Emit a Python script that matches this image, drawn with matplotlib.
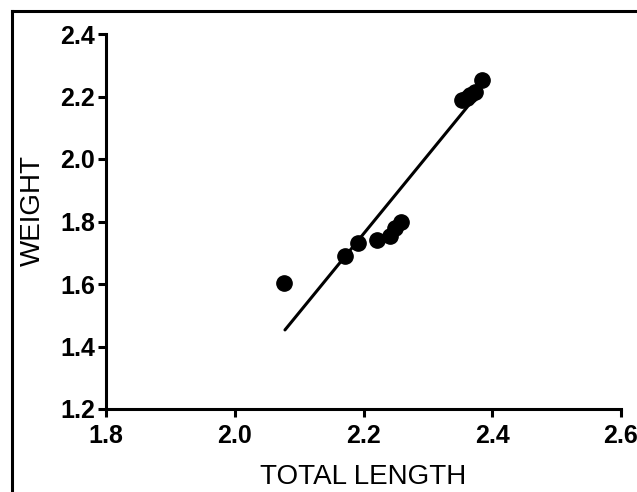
import matplotlib
matplotlib.use("Agg")
import matplotlib.pyplot as plt
from matplotlib.lines import Line2D

# values
total_length = [2.077, 2.171, 2.191, 2.221, 2.241, 2.249, 2.258,
                2.353, 2.360, 2.366, 2.373, 2.384]
weight = [1.603, 1.690, 1.731, 1.741, 1.754, 1.779, 1.800,
          2.189, 2.195, 2.205, 2.214, 2.253]
fit_x = [2.078, 2.380]
fit_y = [1.453, 2.214]

x_ticks = [1.8, 2.0, 2.2, 2.4, 2.6]
y_ticks = [1.2, 1.4, 1.6, 1.8, 2.0, 2.2, 2.4]

FONT = ["Liberation Sans", "DejaVu Sans"]

fig = plt.figure(figsize=(6.37, 4.92), dpi=100)
ax = fig.add_axes([106 / 637, 83 / 492, 515 / 637, 375 / 492])

ax.plot(fit_x, fit_y, color="black", lw=2.2, solid_capstyle="round", zorder=2)
ax.plot(total_length, weight, "o", color="black", ms=11, zorder=3)

ax.set_xlim(1.8, 2.6)
ax.set_ylim(1.2, 2.4)
ax.set_xticks(x_ticks)
ax.set_yticks(y_ticks)
ax.set_xticklabels([f"{v:.1f}" for v in x_ticks], family=FONT,
                   fontweight="bold", fontsize=18)
ax.set_yticklabels([f"{v:.1f}" for v in y_ticks], family=FONT,
                   fontweight="bold", fontsize=18)
ax.tick_params(direction="out", length=6, width=2.2, color="black")
ax.tick_params(axis="x", pad=5)
ax.tick_params(axis="y", pad=2)

for side in ("top", "right"):
    ax.spines[side].set_visible(False)
for side in ("left", "bottom"):
    ax.spines[side].set_linewidth(2.2)

ax.set_xlabel("TOTAL LENGTH", family=FONT, fontsize=20)
ax.set_ylabel("WEIGHT", family=FONT, fontsize=20)
ax.xaxis.set_label_coords(0.5, -0.148)
ax.yaxis.set_label_coords(-0.117, 0.53)

# outer frame, cropped at right and bottom in the reference
fx, fy = 12 / 637, 1 - 11 / 492
fig.add_artist(Line2D([fx, fx], [0, fy], color="black", lw=2.2,
                      transform=fig.transFigure))
fig.add_artist(Line2D([fx, 636 / 637], [fy, fy], color="black", lw=2.2,
                      transform=fig.transFigure))

fig.savefig("out.png", dpi=100)
